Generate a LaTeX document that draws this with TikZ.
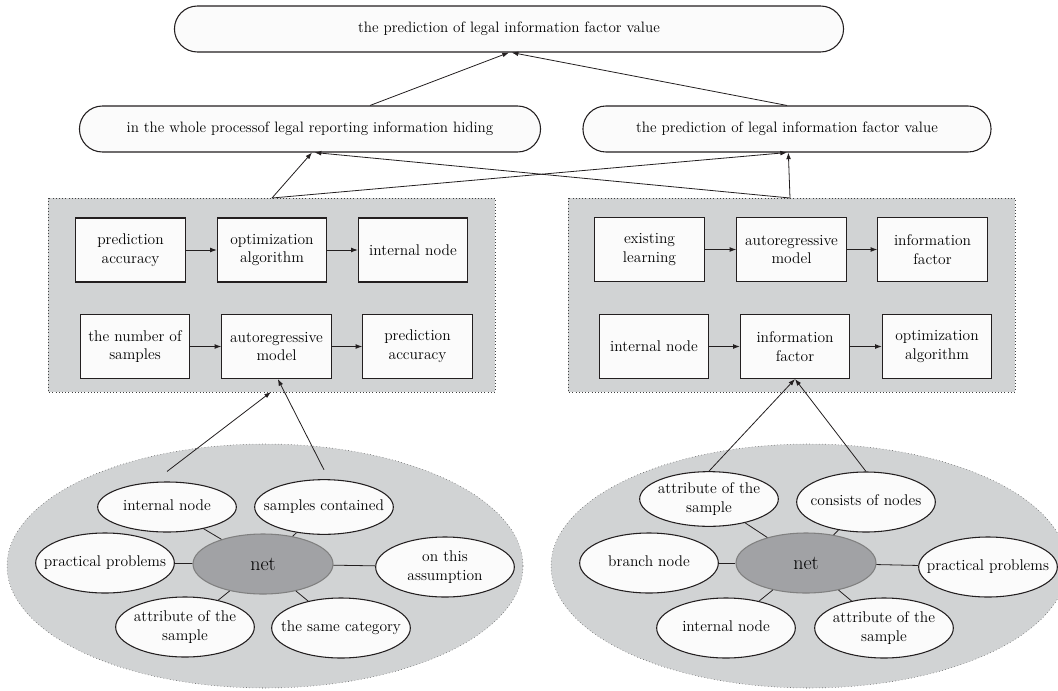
\documentclass[tikz,border=0pt]{standalone}
\usetikzlibrary{shapes.geometric,shapes.misc,arrows.meta}
\definecolor{panelgray}{RGB}{209,211,212}
\definecolor{netgray}{RGB}{161,162,165}
\definecolor{boxwhite}{RGB}{251,251,251}
\definecolor{edgegray}{RGB}{35,31,32}
% text of a bubble that must not widen the ellipse
\newcommand{\squeeze}[1]{\makebox[0pt]{\begin{tabular}{@{}c@{}}#1\end{tabular}}}
\tikzset{
	pill/.style={rounded rectangle, draw=edgegray, fill=boxwhite, line width=0.8pt, minimum height=34.5pt, font=\fontsize{11.3}{14}\selectfont},
	box/.style={rectangle, draw=edgegray, fill=boxwhite, line width=0.8pt, minimum width=82pt, minimum height=48pt, align=center, inner sep=1pt, font=\fontsize{11.6}{14}\selectfont},
	bub/.style={ellipse, draw=edgegray, fill=boxwhite, line width=0.8pt, minimum width=104pt, minimum height=45pt, inner sep=0pt, font=\fontsize{11.6}{14}\selectfont},
	hub/.style={ellipse, draw=gray, fill=netgray, line width=0.8pt, minimum width=105pt, minimum height=45pt, font=\fontsize{15}{17}\selectfont},
	panel/.style={draw=darkgray, dotted, fill=panelgray},
	link/.style={line width=0.6pt, draw=edgegray},
	flow/.style={link, ->},
}
\begin{document}
\begin{tikzpicture}[x=0.75pt, y=-0.75pt, >={Latex[length=5pt,width=3.6pt]}]
	\useasboundingbox (0,0) rectangle (1058,690);
	% grey panels and clouds
	\draw[panel] (48,198) rectangle (495,392);
	\draw[panel] (568,198) rectangle (1015,392);
	\draw[panel] (265,566) ellipse [x radius=193.5pt, y radius=91.5pt];
	\draw[panel] (809,566) ellipse [x radius=193.5pt, y radius=91.5pt];
	% upper levels
	\node[pill, minimum width=508.5pt] (goal) at (509,29) {the prediction of legal information factor value};
	\node[pill, minimum width=352.5pt] (hiding) at (310,129) {in the whole processof legal reporting information hiding};
	\node[pill, minimum width=312.75pt] (factor) at (787,129) {the prediction of legal information factor value};
	\draw[flow] ([xshift=45pt]hiding.north) -- (goal.south);
	\draw[flow] (factor.north) -- ([xshift=2pt]goal.south);
	% left panel
	\node[box] (la1) at (130.5,250) {prediction\\accuracy};
	\node[box] (la2) at (272,250) {optimization\\algorithm};
	\node[box] (la3) at (413,250) {internal node};
	\node[box] (lb1) at (135,346.5) {the number of\\samples};
	\node[box] (lb2) at (276.5,346.5) {autoregressive\\model};
	\node[box] (lb3) at (417.5,346.5) {prediction\\accuracy};
	\draw[flow] (la1) -- (la2);
	\draw[flow] (la2) -- (la3);
	\draw[flow] (lb1) -- (lb2);
	\draw[flow] (lb2) -- (lb3);
	% right panel
	\node[box] (ra1) at (649.5,249.5) {existing\\learning};
	\node[box] (ra2) at (791.5,249.5) {autoregressive\\model};
	\node[box] (ra3) at (932.5,249.5) {information\\factor};
	\node[box] (rb1) at (654,346.5) {internal node};
	\node[box] (rb2) at (795,346.5) {information\\factor};
	\node[box] (rb3) at (937,346.5) {optimization\\algorithm};
	\draw[flow] (ra1) -- (ra2);
	\draw[flow] (ra2) -- (ra3);
	\draw[flow] (rb1) -- (rb2);
	\draw[flow] (rb2) -- (rb3);
	% panels up to the upper level
	\coordinate (lptop) at (272,198);
	\coordinate (rptop) at (790,198);
	\coordinate (lpbot) at (271,392);
	\draw[flow] (lptop) -- ([xshift=1.5pt]hiding.south);
	\draw[flow] (lptop) -- (factor.south);
	\draw[flow] (rptop) -- ([xshift=3.5pt]hiding.south);
	\draw[flow] (rptop) -- ([xshift=1pt]factor.south);
	% left cloud
	\node[hub] (lnet) at (263,564) {net};
	\node[bub, minimum height=37.5pt] (linner) at (167,507) {\squeeze{internal node}};
	\node[bub, minimum height=41pt] (lsamp) at (324,507) {\squeeze{samples contained}};
	\node[bub] (lprac) at (105,563) {\squeeze{practical problems}};
	\node[bub] (lassum) at (445,567) {\squeeze{on this\\assumption}};
	\node[bub] (lattr) at (185,627) {\squeeze{attribute of the\\sample}};
	\node[bub] (lsame) at (341,628) {\squeeze{the same category}};
	\draw[link] (lnet) -- (linner);
	\draw[link] (lnet) -- (lsamp);
	\draw[link] (lnet) -- (lprac);
	\draw[link] (lnet) -- (lassum);
	\draw[link] (lnet) -- (lattr);
	\draw[link] (lnet) -- (lsame);
	\draw[flow] ([yshift=7.5pt]linner.north) -- (lpbot);
	\draw[flow] ([yshift=7pt]lsamp.north) -- ([xshift=1pt]lb2.south);
	% right cloud
	\node[hub] (rnet) at (806,563) {net};
	\node[bub, minimum height=41pt] (rattr) at (709,499) {\squeeze{attribute of the\\sample}};
	\node[bub] (rcons) at (866,502) {\squeeze{consists of nodes}};
	\node[bub] (rbranch) at (649,563) {\squeeze{branch node}};
	\node[bub] (rprac) at (988,567) {\squeeze{practical problems}};
	\node[bub] (rinner) at (726,628) {\squeeze{internal node}};
	\node[bub] (rattrb) at (884,628) {\squeeze{attribute of the\\sample}};
	\draw[link] (rnet) -- (rattr);
	\draw[link] (rnet) -- (rcons);
	\draw[link] (rnet) -- (rbranch);
	\draw[link] (rnet) -- (rprac);
	\draw[link] (rnet) -- (rinner);
	\draw[link] (rnet) -- (rattrb);
	\draw[flow] (rattr.north) -- (rb2.south);
	\draw[flow] (rcons.north) -- (rb2.south);
\end{tikzpicture}
\end{document}
